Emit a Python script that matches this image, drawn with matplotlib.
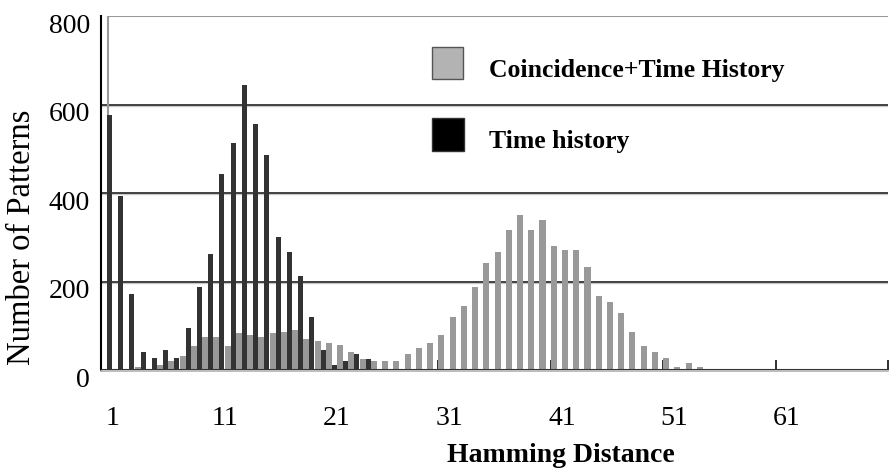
import matplotlib.pyplot as plt
import numpy as np
from matplotlib.patches import Rectangle
from matplotlib.transforms import ScaledTranslation

plt.rcParams['font.family'] = ['Liberation Serif', 'DejaVu Serif']

# Daten
time_history = [576, 393, 172, 41, 27, 45, 27, 95, 188, 262,
                443, 513, 644, 556, 486, 300, 267, 212, 119, 45,
                11, 20, 36, 25]
coincidence = [2, 2, 7, 2, 11, 20, 32, 54, 74, 74,
               54, 84, 79, 74, 84, 86, 90, 70, 65, 61,
               56, 41, 25, 20, 20, 20, 36, 50, 61, 79,
               120, 145, 188, 242, 267, 316, 350, 316, 339, 280,
               271, 271, 233, 167, 154, 129, 86, 54, 41, 27,
               7, 16, 7]
x_labels = ['1', '11', '21', '31', '41', '51', '61']
y_ticks = [0, 200, 400, 600, 800]

fig = plt.figure(figsize=(8.91, 4.68), dpi=100)
ax = fig.add_axes([0.1134, 0.2094, 0.8832, 0.7564])

x_th = np.arange(1, len(time_history) + 1)
x_co = np.arange(1, len(coincidence) + 1)

# Balken
ax.bar(x_co + 0.27, coincidence, width=0.54, color='#999999', zorder=3)
ax.bar(x_th - 0.25, time_history, width=0.44, color='#333333', zorder=4)

ax.set_xlim(0, 70)
ax.set_ylim(0, 800)

# Gitterlinien mit hellem Schatten
for v in y_ticks[1:-1]:
    ax.axhline(v, color='#333333', lw=1.3, zorder=2)
    ax.axhline(v - 2.5, color='#c8c8c8', lw=1.0, zorder=1)
ax.axhline(0, color='#333333', lw=1.5, zorder=5)
ax.axhline(-2.6, color='#b0b0b0', lw=1.2, zorder=5, clip_on=False)
ax.axhline(800, xmin=0.65 / 70, color='#999999', lw=1.5, zorder=2)
ax.axvline(0.65, color='#999999', lw=1.5, zorder=2)

for s in ['top', 'right', 'bottom']:
    ax.spines[s].set_visible(False)
ax.spines['left'].set_linewidth(1.5)

# Achsen
ax.set_yticks(y_ticks)
ax.set_yticklabels([str(v) for v in y_ticks], fontsize=20)
ax.tick_params(axis='y', length=0, pad=8)
for lbl in ax.get_yticklabels():
    lbl.set_transform(lbl.get_transform() + ScaledTranslation(0, -0.07, fig.dpi_scale_trans))

ax.set_xticks([1, 11, 21, 31, 41, 51, 61])
ax.set_xticklabels(x_labels, fontsize=20)
ax.set_xticks(np.arange(10, 71, 10), minor=True)
ax.tick_params(axis='x', which='major', length=0, pad=26)
ax.tick_params(axis='x', which='minor', direction='in', length=7, width=1.3,
               color='#222222')

ax.set_ylabel('Number of Patterns', fontsize=23.5)
ax.yaxis.set_label_coords(-0.1004, 0.376)
ax.yaxis.label.set_verticalalignment('center')

ax.set_xlabel('Hamming Distance', fontsize=20, fontweight='bold')
ax.xaxis.set_label_coords(0.584, -0.260)
ax.xaxis.label.set_verticalalignment('baseline')

# Legende
ax.add_patch(Rectangle((0.4202, 0.8212), 0.0402, 0.0904, transform=ax.transAxes,
                       facecolor='#b3b3b3', edgecolor='#555555', lw=1, zorder=6))
ax.add_patch(Rectangle((0.4202, 0.6186), 0.041, 0.0924, transform=ax.transAxes,
                       facecolor='black', edgecolor='#333333', lw=1, zorder=6))
ax.text(0.493, 0.8285, 'Coincidence+Time History', transform=ax.transAxes,
        fontsize=18.5, fontweight='bold', va='baseline', ha='left', zorder=6)
ax.text(0.493, 0.627, 'Time history', transform=ax.transAxes,
        fontsize=18.5, fontweight='bold', va='baseline', ha='left', zorder=6)

fig.savefig('out.png', dpi=100)
